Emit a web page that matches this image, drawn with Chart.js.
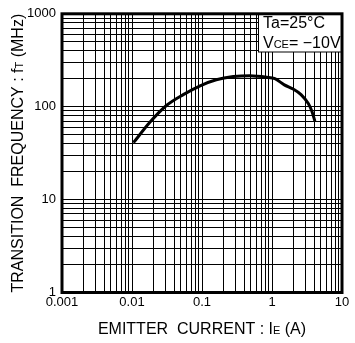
<!DOCTYPE html>
<html>
<head>
<meta charset="utf-8">
<script src="https://cdn.jsdelivr.net/npm/chart.js@4.4.0/dist/chart.umd.min.js"></script>
<style>
	html, body { margin: 0; padding: 0; background: #fff; }
	#wrap { width: 355px; height: 343px; }
</style>
</head>
<body>
<div id="wrap"><canvas id="myChart" width="355" height="343"></canvas></div>
<script>
	// emitter current IE (A) and transition frequency fT (MHz)
	const emitterCurrent = [0.0105, 0.018, 0.031, 0.054, 0.094, 0.16, 0.28, 0.48, 0.84, 1.1, 1.5, 2.0, 2.6, 3.3, 3.7, 4.1];
	const transitionFreq = [41, 68, 103, 135, 168, 195, 211, 216, 208, 200, 172, 155, 135, 108, 90, 70];

	const xTickLabels = ['0.001', '0.01', '0.1', '1', '10'];
	const yTickLabels = ['1', '10', '100', '1000'];

	const legendLines = [
		[['Ta=25°C', 16]],
		[['V', 16], ['CE', 11], ['= \u221210V', 16]]
	];
	const xTitle = [['EMITTER  CURRENT : I', 16], ['E', 11], [' (A)', 16]];
	const yTitle = [['TRANSITION  FREQUENCY : f', 16], ['T', 11], [' (MHz)', 16]];

	const FONT = "'Liberation Sans', Arial, sans-serif";
	const NARROW = "'Liberation Sans Narrow', 'Liberation Sans', Arial, sans-serif";

	// every 1..9 step of each decade between the first and last label
	function logTicks(labels) {
		const out = [];
		const lo = parseFloat(labels[0]), hi = parseFloat(labels[labels.length - 1]);
		for (let d = lo; d < hi * 0.999; d *= 10) {
			for (let s = 1; s < 10; s++) out.push({ value: d * s });
		}
		out.push({ value: hi });
		return out;
	}
	function tickLabel(labels) {
		return function (value) {
			const hit = labels.find(l => Math.abs(parseFloat(l) - value) < value * 1e-6);
			return hit === undefined ? '' : hit;
		};
	}

	function drawRuns(ctx, runs, x, y) {
		let w = 0;
		runs.forEach(r => { ctx.font = r[1] + 'px ' + FONT; w += ctx.measureText(r[0]).width; });
		let cx = x - w / 2;
		runs.forEach(r => {
			ctx.font = r[1] + 'px ' + FONT;
			ctx.fillText(r[0], cx, y);
			cx += ctx.measureText(r[0]).width;
		});
	}

	const framePlugin = {
		id: 'frame',
		afterDraw(chart) {
			const ctx = chart.ctx, a = chart.chartArea;
			ctx.save();
			// condition box
			ctx.fillStyle = '#fff';
			ctx.fillRect(258, a.top, a.right - 258, 52 - a.top);
			ctx.strokeStyle = '#000';
			ctx.lineWidth = 1;
			ctx.strokeRect(258.5, a.top, a.right - 258.5, 52 - a.top);
			ctx.fillStyle = '#000';
			ctx.textBaseline = 'alphabetic';
			ctx.textAlign = 'left';
			legendLines.forEach((runs, i) => {
				let cx = 263;
				runs.forEach(r => {
					ctx.font = r[1] + 'px ' + FONT;
					ctx.fillText(r[0], cx, 28 + i * 20);
					cx += ctx.measureText(r[0]).width;
				});
			});
			// plot border
			ctx.lineWidth = 3;
			ctx.strokeRect(a.left, a.top, a.right - a.left, a.bottom - a.top);
			// axis titles
			drawRuns(ctx, xTitle, (a.left + a.right) / 2, 334);
			ctx.translate(23, (a.top + a.bottom) / 2);
			ctx.rotate(-Math.PI / 2);
			drawRuns(ctx, yTitle, 0, 0);
			ctx.restore();
		}
	};

	const ctx = document.getElementById('myChart');
	const myChart = new Chart(ctx, {
		type: 'line',
		data: {
			datasets: [{
				data: emitterCurrent.map((x, i) => ({ x: x, y: transitionFreq[i] })),
				borderColor: '#000',
				borderWidth: 3,
				pointRadius: 0,
				cubicInterpolationMode: 'monotone',
				fill: false
			}]
		},
		options: {
			responsive: false,
			animation: false,
			layout: { padding: { left: 0, right: 13, top: 10.5, bottom: 0 } },
			plugins: { legend: { display: false }, tooltip: { enabled: false } },
			scales: {
				x: {
					type: 'logarithmic',
					min: 0.001,
					max: 10,
					afterBuildTicks: s => { s.ticks = logTicks(xTickLabels); },
					afterFit: s => { s.height = 50.5; },
					grid: { color: '#000', lineWidth: 1, drawTicks: false },
					border: { display: false },
					ticks: {
						autoSkip: false,
						maxRotation: 0,
						padding: 2,
						color: '#000',
						font: { family: NARROW, size: 13 },
						callback: tickLabel(xTickLabels)
					}
				},
				y: {
					type: 'logarithmic',
					min: 1,
					max: 1000,
					afterBuildTicks: s => { s.ticks = logTicks(yTickLabels); },
					afterFit: s => { s.width = 62; },
					grid: { color: '#000', lineWidth: 1, drawTicks: false },
					border: { display: false },
					ticks: {
						autoSkip: false,
						padding: 6,
						color: '#000',
						font: { family: NARROW, size: 13 },
						callback: tickLabel(yTickLabels)
					}
				}
			}
		},
		plugins: [framePlugin]
	});
</script>
</body>
</html>
